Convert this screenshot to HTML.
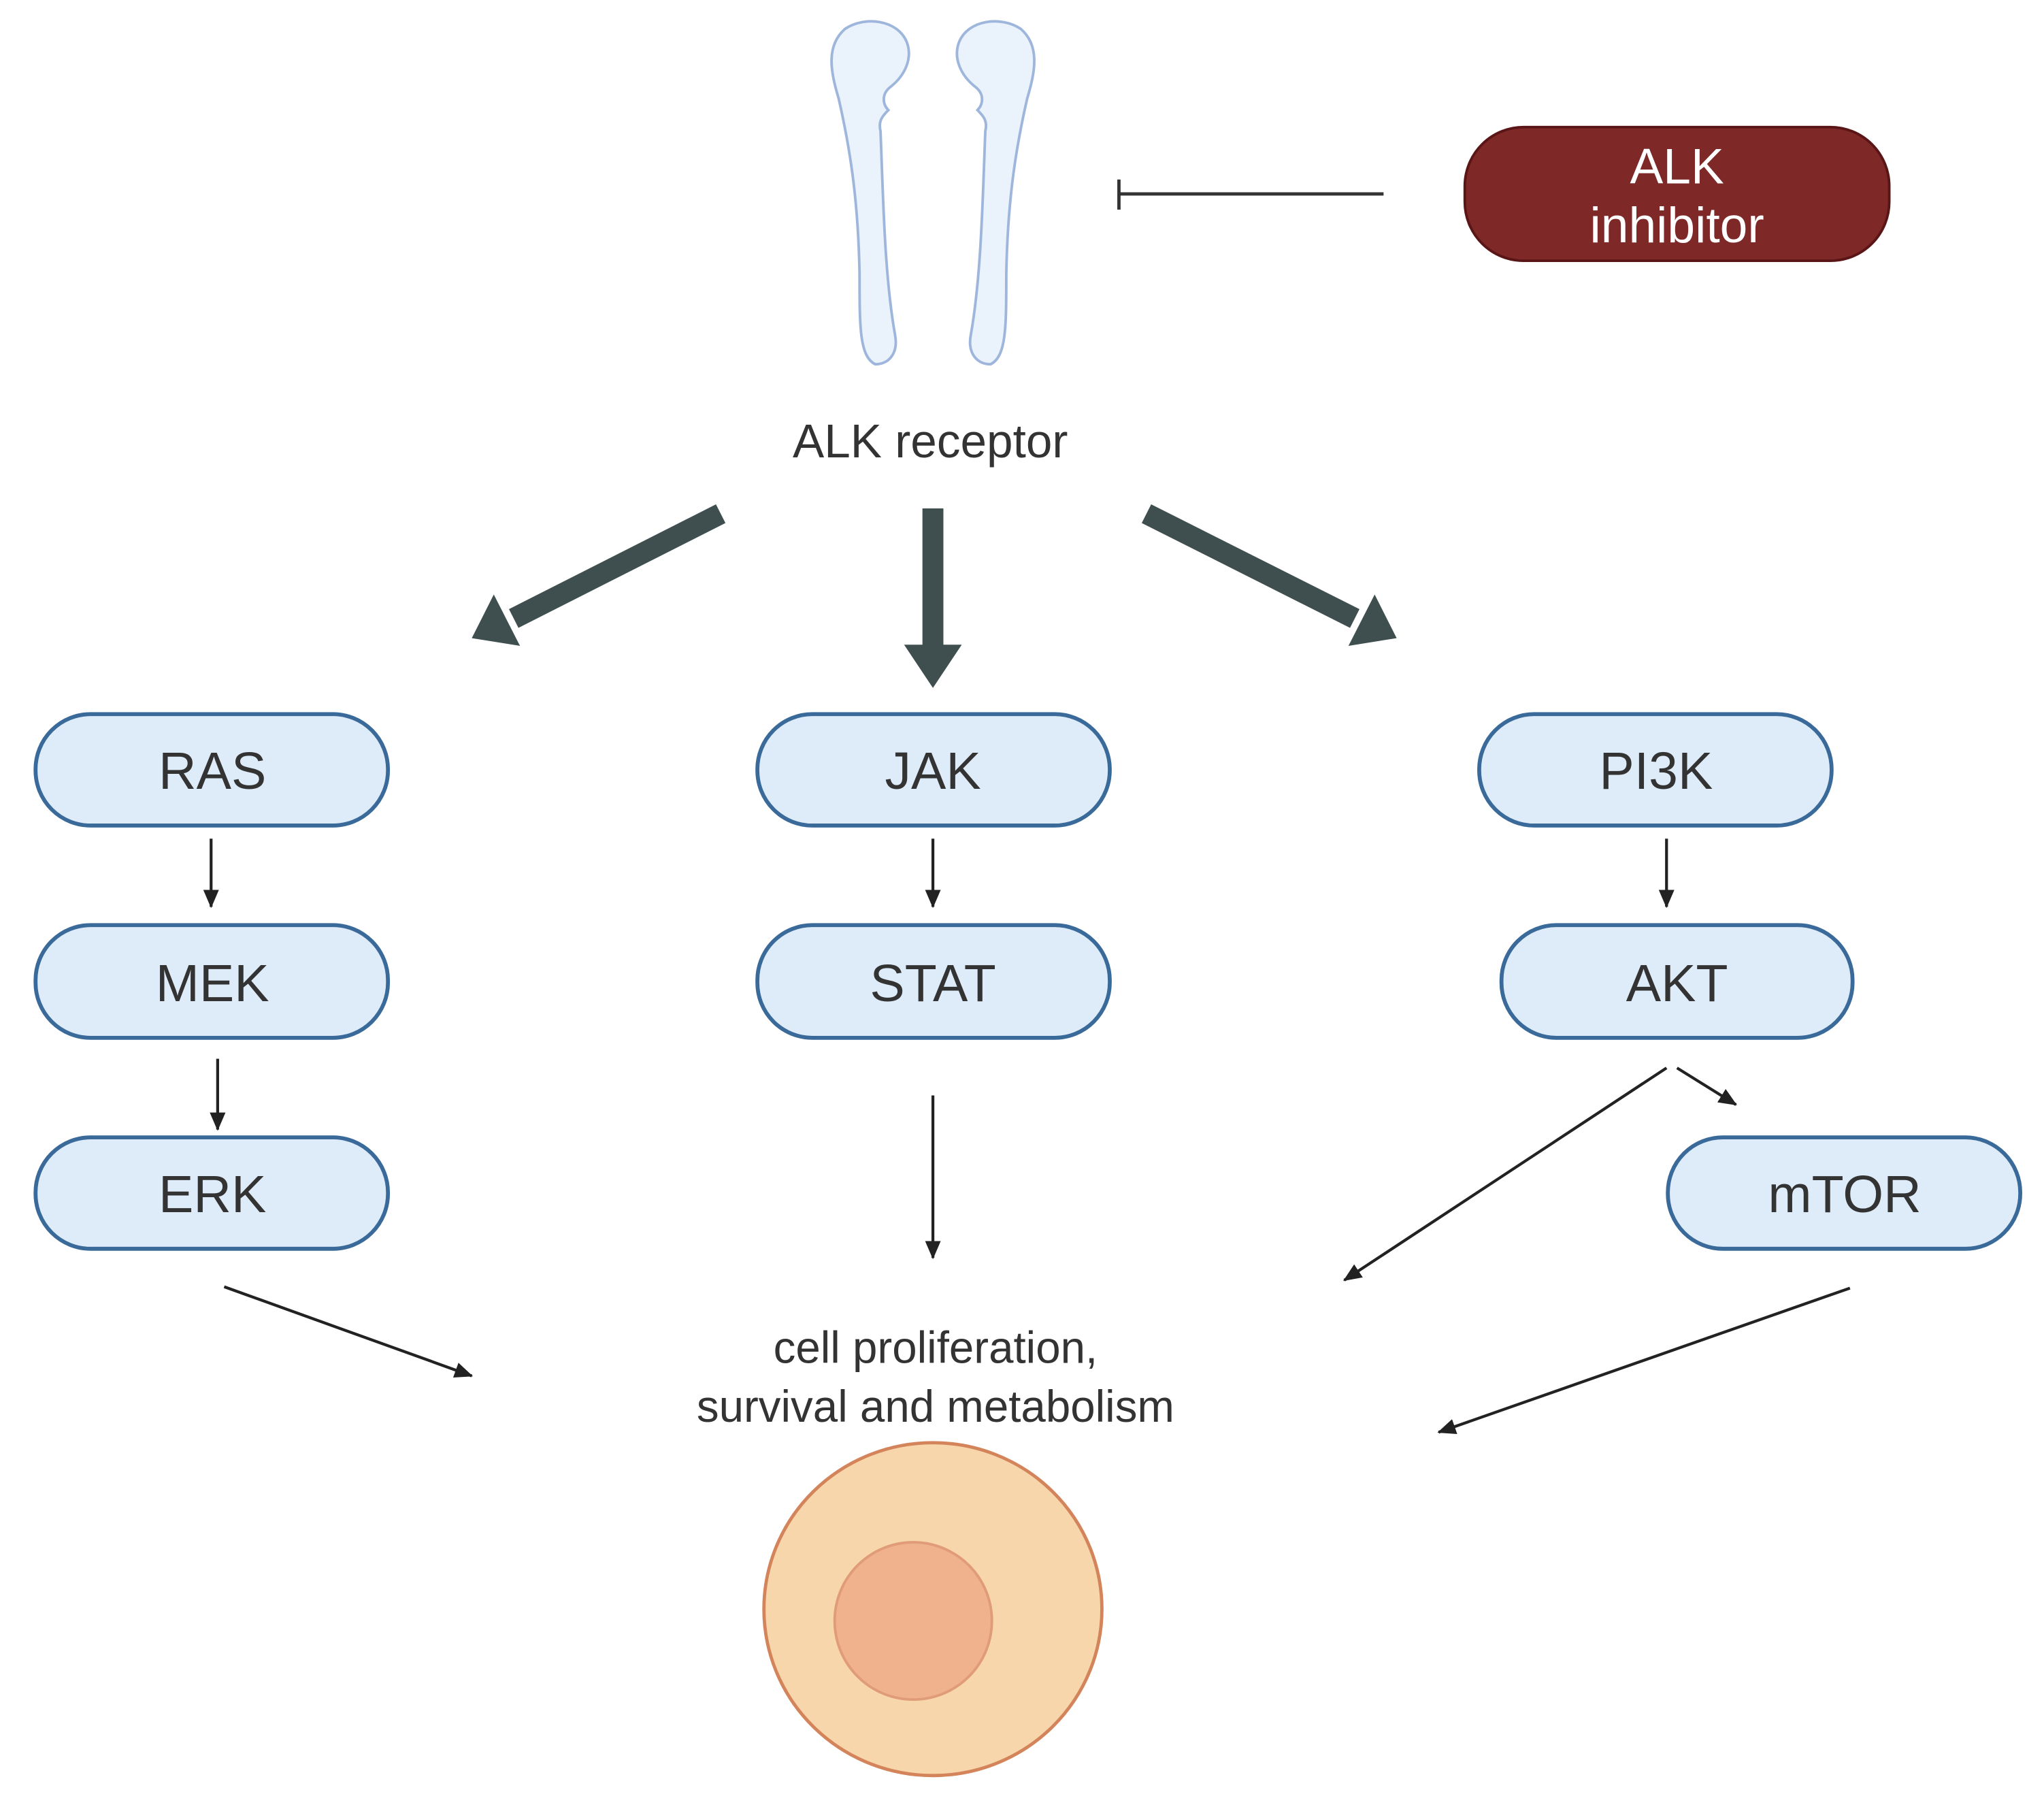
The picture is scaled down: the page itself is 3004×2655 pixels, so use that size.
<!DOCTYPE html>
<html><head><meta charset="utf-8"><style>
html,body{margin:0;padding:0;background:#fff}
svg{display:block}
text{font-family:"Liberation Sans",sans-serif}
</style></head><body>
<svg width="3004" height="2655" viewBox="0 0 1560 1379" xmlns="http://www.w3.org/2000/svg">
<defs>
<marker id="ah" markerWidth="14" markerHeight="14" refX="13" refY="6" orient="auto" markerUnits="userSpaceOnUse"><path d="M0,0 L14,6 L0,12 Z" fill="#222"/></marker>
</defs>
<rect width="1560" height="1379" fill="#fff"/>
<!-- receptor -->
<g fill="#eaf2fc" stroke="#9fb6dc" stroke-width="2">
<path id="arm" d="M668,278 C656,272 656,250 656,210 C655,150 648,110 640,75 C634,55 630,35 645,22 C660,12 685,15 692,32 C697,45 690,58 680,66 C672,72 674,80 678,84 C674,88 670,92 672,100 C674,150 675,210 683,255 C686,270 678,278 668,278 Z"/>
<use href="#arm" transform="translate(1424,0) scale(-1,1)"/>
</g>
<!-- inhibition -->
<line x1="854" y1="148" x2="1056" y2="148" stroke="#333" stroke-width="2.5"/>
<line x1="854" y1="137" x2="854" y2="160" stroke="#333" stroke-width="2.5"/>
<rect x="1118" y="97" width="324" height="102" rx="45" fill="#7f2828" stroke="#5a1616" stroke-width="2"/>
<text x="1280" y="140" font-size="38" fill="#fff" text-anchor="middle">ALK</text>
<text x="1280" y="185" font-size="38" fill="#fff" text-anchor="middle">inhibitor</text>
<text x="710" y="349" font-size="36" fill="#333" text-anchor="middle">ALK receptor</text>
<!-- big arrows -->
<g stroke="#3f4f4f" stroke-width="16" fill="none">
<line x1="550" y1="392" x2="392" y2="472"/>
<line x1="712" y1="388" x2="712" y2="495"/>
<line x1="875" y1="392" x2="1034" y2="472"/>
</g>
<g fill="#3f4f4f">
<polygon points="360,487 396.8,492.9 376.8,453.7"/>
<polygon points="712,525 690,492 734,492"/>
<polygon points="1066,487 1029.2,492.9 1049.2,453.7"/>
</g>
<!-- pills -->
<g fill="#deebf8" stroke="#3a6a9a" stroke-width="3">
<rect x="27" y="545" width="269" height="85" rx="42"/>
<rect x="578" y="545" width="269" height="85" rx="42"/>
<rect x="1129" y="545" width="269" height="85" rx="42"/>
<rect x="27" y="706" width="269" height="86" rx="42"/>
<rect x="578" y="706" width="269" height="86" rx="42"/>
<rect x="1146" y="706" width="268" height="86" rx="42"/>
<rect x="27" y="868" width="269" height="85" rx="42"/>
<rect x="1273" y="868" width="269" height="85" rx="42"/>
</g>
<g font-size="40" fill="#333" text-anchor="middle">
<text x="162" y="602">RAS</text>
<text x="712" y="602">JAK</text>
<text x="1264" y="602">PI3K</text>
<text x="162" y="764">MEK</text>
<text x="712" y="764">STAT</text>
<text x="1280" y="764">AKT</text>
<text x="162" y="925">ERK</text>
<text x="1408" y="925">mTOR</text>
</g>
<!-- small arrows -->
<g stroke="#222" stroke-width="2.2" marker-end="url(#ah)">
<line x1="161" y1="640" x2="161" y2="692"/>
<line x1="712" y1="640" x2="712" y2="692"/>
<line x1="1272" y1="640" x2="1272" y2="692"/>
<line x1="166" y1="808" x2="166" y2="862"/>
<line x1="712" y1="836" x2="712" y2="960"/>
<line x1="171" y1="982" x2="360" y2="1050"/>
<line x1="1272" y1="815" x2="1026" y2="977"/>
<line x1="1280" y1="815" x2="1325" y2="843"/>
<line x1="1412" y1="983" x2="1098" y2="1093"/>
</g>
<text x="714" y="1040" font-size="34" fill="#333" text-anchor="middle">cell proliferation,</text>
<text x="714" y="1085" font-size="34" fill="#333" text-anchor="middle">survival and metabolism</text>
<!-- cell -->
<ellipse cx="712" cy="1228" rx="129" ry="127" fill="#f8d6ab" stroke="#d4845a" stroke-width="2.5"/>
<circle cx="697" cy="1237" r="60" fill="#f0b28c" stroke="#e09c78" stroke-width="2"/>
</svg>
</body></html>
